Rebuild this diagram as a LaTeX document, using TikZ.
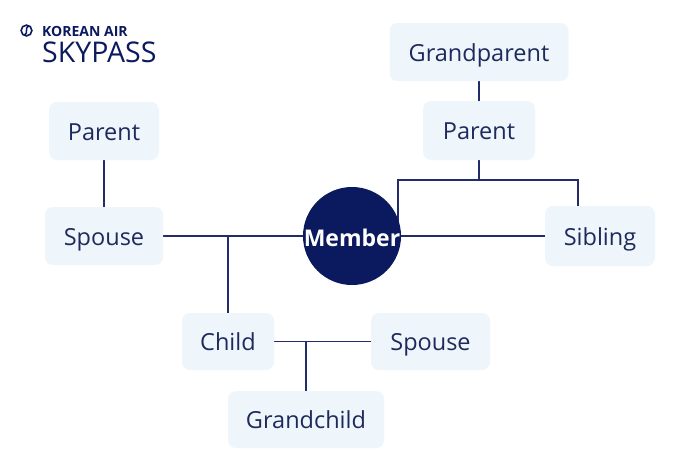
\documentclass[tikz,border=0pt]{standalone}
\usepackage{fontspec}
\setmainfont{Open Sans}
\usetikzlibrary{backgrounds}
\definecolor{navy}{HTML}{0B1A5E}
\definecolor{txt}{HTML}{1E2A5C}
\definecolor{boxfill}{HTML}{EEF6FC}
\definecolor{linec}{HTML}{232B6A}
\tikzset{
  famBox/.style={rectangle, rounded corners=8pt, fill=boxfill, text=txt,
    font=\fontsize{23.5}{26}\selectfont, inner sep=0pt, text height=20pt, text depth=2pt},
  conn/.style={draw=linec, line width=1.8pt},
}
\begin{document}
\begin{tikzpicture}[x=1pt,y=-1pt]
\useasboundingbox (0,0) rectangle (700,472);
% logo
\draw[navy, line width=1.6pt] (26.5,30.5) circle (5.4);
\draw[navy, line width=1.5pt] (29.5,25.8) .. controls (23,28) and (30,33) .. (23.5,35.2);
\node[anchor=base west, inner sep=0pt, text=navy, font=\fontsize{14}{16}\selectfont\bfseries] (kal) at (42,36.5) {KOREAN AIR};
\node[anchor=base west, inner sep=0pt, text=navy, font=\fontsize{28.5}{30}\selectfont] (skp) at (42,62) {SKYPASS};
% nodes
\node[famBox, minimum width=110pt, minimum height=58pt] (lparent) at (104,131) {Parent};
\node[famBox, minimum width=118pt, minimum height=58pt] (lspouse) at (104,236) {Spouse};
\node[famBox, minimum width=179pt, minimum height=58pt] (gp) at (479,52) {Grandparent};
\node[famBox, minimum width=112pt, minimum height=59pt] (rparent) at (479,130.5) {Parent};
\node[famBox, minimum width=110pt, minimum height=60pt] (sibling) at (600,236) {Sibling};
\node[famBox, minimum width=92pt, minimum height=57pt] (child) at (228,341.5) {Child};
\node[famBox, minimum width=119pt, minimum height=57pt] (spouse2) at (430.5,341.5) {Spouse};
\node[famBox, minimum width=156pt, minimum height=57pt] (gchild) at (306,419.5) {Grandchild};
\node[circle, fill=navy, minimum size=98pt, inner sep=0pt] (member) at (352,236) {};
% junctions
\coordinate (j1) at (228,236);
\coordinate (j2) at (479,180);
\coordinate (jl) at (398,180);
\coordinate (jr) at (578,180);
\coordinate (jm) at (398,236);
\coordinate (js) at (578,206);
\coordinate (j3) at (306,341.5);
\begin{scope}[on background layer]
\fill[white] (0,0) rectangle (700,472);
\draw[conn] (lparent.south) -- (lspouse.north);
\draw[conn] (lspouse.east) -- (member.center);
\draw[conn] (j1) -- (child.north);
\draw[conn] (gp.south) -- (rparent.north);
\draw[conn] (rparent.south) -- (j2);
\draw[conn] (jm) -- (jl) -- (jr) -- (js);
\draw[conn] (member.center) -- (sibling.west);
\draw[conn] (child.east) -- (spouse2.west);
\draw[conn] (j3) -- (gchild.north);
\end{scope}
\node[text=white, font=\fontsize{23}{26}\selectfont\bfseries, inner sep=0pt, anchor=base] (mlabel) at (352,246.5) {Member};
\end{tikzpicture}
\end{document}
